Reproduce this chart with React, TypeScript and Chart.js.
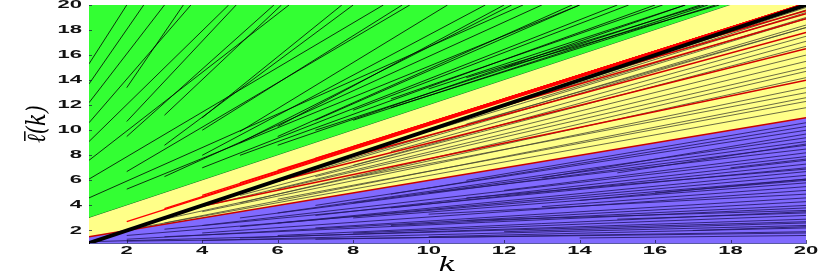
import React, { useEffect, useRef } from "react";
import { Chart, registerables } from "chart.js";

Chart.register(...registerables);

// ---------- axes ----------
const xTickValues = [2, 4, 6, 8, 10, 12, 14, 16, 18, 20];
const yTickValues = [2, 4, 6, 8, 10, 12, 14, 16, 18, 20];
const kMin = 1;
const kMax = 20;
const lMin = 1;
const lMax = 20;

// ---------- region boundaries ----------
const diagonalK = [1, 20];
const diagonalL = [1, 20];
const blueEdgeK = [1, 20];
const blueEdgeL = [1.5, 11];
const greenEdgeK = [1, 18, 20];
const greenEdgeL = [3, 20, 20];

// ---------- thin black trajectories in the green region ----------
const greenStartK = [1, 1, 1, 1, 1, 1, 1, 1, 2, 2, 2, 2, 2, 3, 3, 3, 4, 4, 4, 4, 5, 5, 5, 6, 6, 6, 7, 7, 8, 8, 9, 9, 10, 11, 12];
const greenStartL = [15.3, 13.7, 12.2, 10.6, 9.1, 7.6, 6.1, 4.6, 13.4, 10.7, 9.5, 6.7, 5.3, 11.2, 8.8, 6.3, 11.0, 10.0, 8.0, 7.0, 9.9, 9.0, 8.0, 10.3, 9.5, 8.8, 10.8, 10.0, 11.6, 10.8, 12.5, 11.8, 13.3, 14.2, 15.0];
const greenEndK = [2.0, 2.45, 3.0, 3.7, 4.7, 6.3, 8.8, 12.5, 3.5, 4.9, 5.9, 9.5, 14.0, 6.1, 8.0, 13.0, 7.7, 9.3, 11.5, 15.0, 10.5, 12.2, 16.0, 12.0, 13.8, 16.8, 14.0, 17.2, 15.3, 17.4, 16.2, 17.6, 16.8, 17.3, 17.7];
const greenEndL = [20, 20, 20, 20, 20, 20, 20, 20, 20, 20, 20, 20, 20, 20, 20, 20, 20, 20, 20, 20, 20, 20, 20, 20, 20, 20, 20, 20, 20, 20, 20, 20, 20, 20, 20];

// ---------- red trajectories above the diagonal ----------
const redUpStartK = [2, 3, 4, 5, 6, 7, 8, 9, 10, 11, 12, 13, 14, 15, 16, 17, 18];
const redUpStartL = [2.7, 3.75, 4.8, 5.8, 6.8, 7.75, 8.7, 9.65, 10.6, 11.55, 12.5, 13.45, 14.4, 15.35, 16.3, 17.25, 18.2];
const redUpEndK = [20, 20, 20, 20, 20, 20, 20, 20, 20, 20, 20, 20, 20, 20, 20, 20, 20];
const redUpEndL = [20.0, 20.02, 20.04, 20.05, 20.06, 20.07, 20.08, 20.09, 20.1, 20.1, 20.11, 20.12, 20.12, 20.13, 20.14, 20.14, 20.15];

// ---------- red trajectories below the diagonal ----------
const redDownStartK = [4, 6, 8, 12, 15, 17];
const redDownStartL = [3.95, 5.95, 7.95, 11.95, 14.95, 16.98];
const redDownEndK = [20, 20, 20, 20, 20, 20];
const redDownEndL = [14.0, 16.5, 17.8, 18.9, 19.3, 19.55];

// ---------- thin grey trajectories in the yellow region ----------
const grayStartK = [2, 3, 3, 4, 4, 5, 5, 6, 6, 6, 7, 7, 8, 8, 9, 10, 11, 12, 13, 14, 16];
const grayStartL = [2.05, 2.6, 2.9, 3.5, 3.9, 4.2, 4.8, 4.5, 5.3, 5.9, 6.3, 6.9, 6.2, 7.2, 8.3, 9.9, 10.5, 11.9, 12.5, 13.9, 15.9];
const grayEndK = [20, 20, 20, 20, 20, 20, 20, 20, 20, 20, 20, 20, 20, 20, 20, 20, 20, 20, 20, 20, 20];
const grayEndL = [11.8, 12.6, 14.2, 13.4, 15.5, 14.7, 16.7, 12.3, 15.0, 18.2, 16.0, 18.4, 13.0, 17.1, 17.5, 19.0, 18.2, 19.4, 18.9, 19.6, 19.8];

// ---------- dark trajectories in the blue region ----------
const blueStartK = [1, 2, 2, 2, 3, 3, 4, 4, 4, 5, 5, 5, 6, 6, 6, 7, 7, 7, 7, 8, 8, 8, 9, 9, 9, 10, 10, 10, 11, 11, 11, 12, 12, 13, 13, 14, 14, 15, 15, 16, 17, 18];
const blueStartL = [1.1, 1.15, 1.3, 1.6, 1.5, 2.1, 1.2, 1.8, 2.4, 1.4, 2.3, 3.0, 1.6, 2.6, 3.4, 1.3, 2.2, 3.2, 4.0, 1.8, 3.0, 4.2, 2.4, 3.8, 4.9, 1.5, 3.3, 5.0, 2.8, 4.6, 6.0, 1.9, 5.2, 3.9, 6.2, 1.4, 4.4, 2.9, 6.6, 5.0, 2.0, 7.0];
const blueEndK = [20, 20, 20, 20, 20, 20, 20, 20, 20, 20, 20, 20, 20, 20, 20, 20, 20, 20, 20, 20, 20, 20, 20, 20, 20, 20, 20, 20, 20, 20, 20, 20, 20, 20, 20, 20, 20, 20, 20, 20, 20, 20];
const blueEndL = [2.7, 1.8, 4.3, 6.1, 3.8, 7.0, 2.4, 5.2, 7.9, 2.9, 6.4, 8.8, 3.5, 6.7, 9.4, 1.9, 4.6, 7.6, 10.0, 3.2, 5.8, 9.1, 4.0, 7.3, 10.3, 2.2, 4.9, 8.5, 3.6, 6.9, 10.6, 2.6, 8.2, 5.5, 9.7, 1.6, 6.1, 3.4, 8.9, 6.0, 2.3, 7.7];

// ---------- colours ----------
const GREEN = "rgb(51,255,51)";
const YELLOW = "rgb(255,255,136)";
const BLUE = "rgb(128,106,255)";

function path(ks: number[], ls: number[]) {
  return ks.map((k, i) => ({ x: k, y: ls[i] }));
}

function segments(k0: number[], l0: number[], k1: number[], l1: number[], color: string, width: number, order: number) {
  return k0.map((_, i) => ({
    data: [
      { x: k0[i], y: l0[i] },
      { x: k1[i], y: l1[i] },
    ],
    borderColor: color,
    borderWidth: width,
    pointRadius: 0,
    fill: false,
    order,
  }));
}

const axisText = {
  id: "axisText",
  afterDraw(chart: any) {
    const { ctx, chartArea, scales } = chart;
    const xs = scales.x;
    const ys = scales.y;
    ctx.save();
    // inside tick marks
    ctx.strokeStyle = "rgba(20,20,60,0.7)";
    ctx.lineWidth = 1;
    for (const t of xs.ticks) {
      const px = Math.round(xs.getPixelForValue(t.value)) + 0.5;
      ctx.beginPath();
      ctx.moveTo(px, chartArea.bottom);
      ctx.lineTo(px, chartArea.bottom - 3);
      ctx.stroke();
    }
    for (const t of ys.ticks) {
      const py = Math.round(ys.getPixelForValue(t.value)) + 0.5;
      ctx.beginPath();
      ctx.moveTo(chartArea.left, py);
      ctx.lineTo(chartArea.left + 3, py);
      ctx.stroke();
    }
    // tick labels (wide MATLAB-like digits)
    ctx.fillStyle = "#111";
    ctx.font = 'bold 11px "Liberation Sans", Arial, sans-serif';
    ctx.textBaseline = "middle";
    for (const t of xs.ticks) {
      const px = xs.getPixelForValue(t.value);
      ctx.save();
      ctx.translate(px, chartArea.bottom + 8);
      ctx.scale(2, 1);
      ctx.textAlign = "center";
      ctx.fillText(String(t.value), 0, 0);
      ctx.restore();
    }
    for (const t of ys.ticks) {
      const py = ys.getPixelForValue(t.value);
      ctx.save();
      ctx.translate(chartArea.left - 7, py);
      ctx.scale(2, 1);
      ctx.textAlign = "right";
      ctx.fillText(String(t.value), 0, 0);
      ctx.restore();
    }
    // x title
    ctx.fillStyle = "#000";
    ctx.font = 'italic 21px "DejaVu Serif", serif';
    ctx.textAlign = "center";
    ctx.textBaseline = "alphabetic";
    ctx.save();
    ctx.translate((chartArea.left + chartArea.right) / 2, 271);
    ctx.scale(1.4, 1);
    ctx.fillText("k", 0, 0);
    ctx.restore();
    // y title with a bar over the ell
    ctx.save();
    ctx.translate(38, (chartArea.top + chartArea.bottom) / 2);
    ctx.rotate(-Math.PI / 2);
    ctx.scale(1, 1.25);
    ctx.font = 'italic 21px "DejaVu Serif", serif';
    ctx.textBaseline = "middle";
    ctx.textAlign = "left";
    const label = "\u2113(k)";
    const w = ctx.measureText(label).width;
    const ell = ctx.measureText("\u2113");
    const x0 = -w / 2;
    ctx.fillText(label, x0, 0);
    const top = -(ell.actualBoundingBoxAscent || 9) - 2;
    ctx.strokeStyle = "#000";
    ctx.lineWidth = 1.2;
    ctx.beginPath();
    ctx.moveTo(x0 + 2, top);
    ctx.lineTo(x0 + ell.width + 3, top);
    ctx.stroke();
    ctx.restore();
    ctx.restore();
  },
};

export default function App() {
  const canvasRef = useRef<HTMLCanvasElement | null>(null);

  useEffect(() => {
    const canvas = canvasRef.current;
    if (!canvas) return;

    const datasets: any[] = [
      {
        data: path(greenEdgeK, greenEdgeL),
        borderColor: "rgba(0,0,0,0.55)",
        borderWidth: 1,
        backgroundColor: GREEN,
        fill: "end",
        pointRadius: 0,
        order: 100,
      },
      {
        data: path(greenEdgeK, greenEdgeL),
        borderColor: "rgba(0,0,0,0)",
        borderWidth: 0,
        backgroundColor: YELLOW,
        fill: "start",
        pointRadius: 0,
        order: 99,
      },
      {
        data: path(blueEdgeK, blueEdgeL),
        borderColor: "rgb(200,0,0)",
        borderWidth: 1.5,
        backgroundColor: BLUE,
        fill: "start",
        pointRadius: 0,
        order: 98,
      },
      ...segments(greenStartK, greenStartL, greenEndK, greenEndL, "rgba(0,0,0,0.8)", 1, 50),
      ...segments(blueStartK, blueStartL, blueEndK, blueEndL, "rgba(35,25,100,0.85)", 1, 49),
      ...segments(grayStartK, grayStartL, grayEndK, grayEndL, "rgba(70,70,50,0.8)", 1, 48),
      ...segments(redDownStartK, redDownStartL, redDownEndK, redDownEndL, "rgb(210,0,0)", 1.5, 30),
      ...segments(redUpStartK, redUpStartL, redUpEndK, redUpEndL, "rgb(255,0,0)", 1.4, 29),
      {
        data: path(diagonalK, diagonalL),
        borderColor: "#000",
        borderWidth: 4,
        pointRadius: 0,
        fill: false,
        order: 0,
      },
    ];

    const chart = new Chart(canvas, {
      type: "line",
      data: { datasets },
      options: {
        responsive: false,
        animation: false,
        devicePixelRatio: 1,
        events: [],
        layout: { padding: { left: 0, right: 15, top: 5, bottom: 0 } },
        plugins: { legend: { display: false }, tooltip: { enabled: false } },
        elements: { line: { tension: 0 } },
        scales: {
          x: {
            type: "linear",
            min: kMin,
            max: kMax,
            grid: { display: false },
            border: { display: true, color: "rgba(90,90,160,1)", width: 1 },
            ticks: { display: false },
            afterBuildTicks: (axis: any) => {
              axis.ticks = xTickValues.map((v) => ({ value: v }));
            },
            afterFit: (axis: any) => {
              axis.height = 30;
            },
          },
          y: {
            type: "linear",
            min: lMin,
            max: lMax,
            grid: { display: false },
            border: { display: true, color: "#000", width: 1 },
            ticks: { display: false },
            afterBuildTicks: (axis: any) => {
              axis.ticks = yTickValues.map((v) => ({ value: v }));
            },
            afterFit: (axis: any) => {
              axis.width = 89;
            },
          },
        },
      },
      plugins: [axisText],
    });

    return () => chart.destroy();
  }, []);

  return (
    <div style={{ position: "absolute", left: 0, top: 0, width: 821, height: 273, background: "#fff" }}>
      <canvas ref={canvasRef} width={821} height={273} style={{ display: "block" }} />
    </div>
  );
}
